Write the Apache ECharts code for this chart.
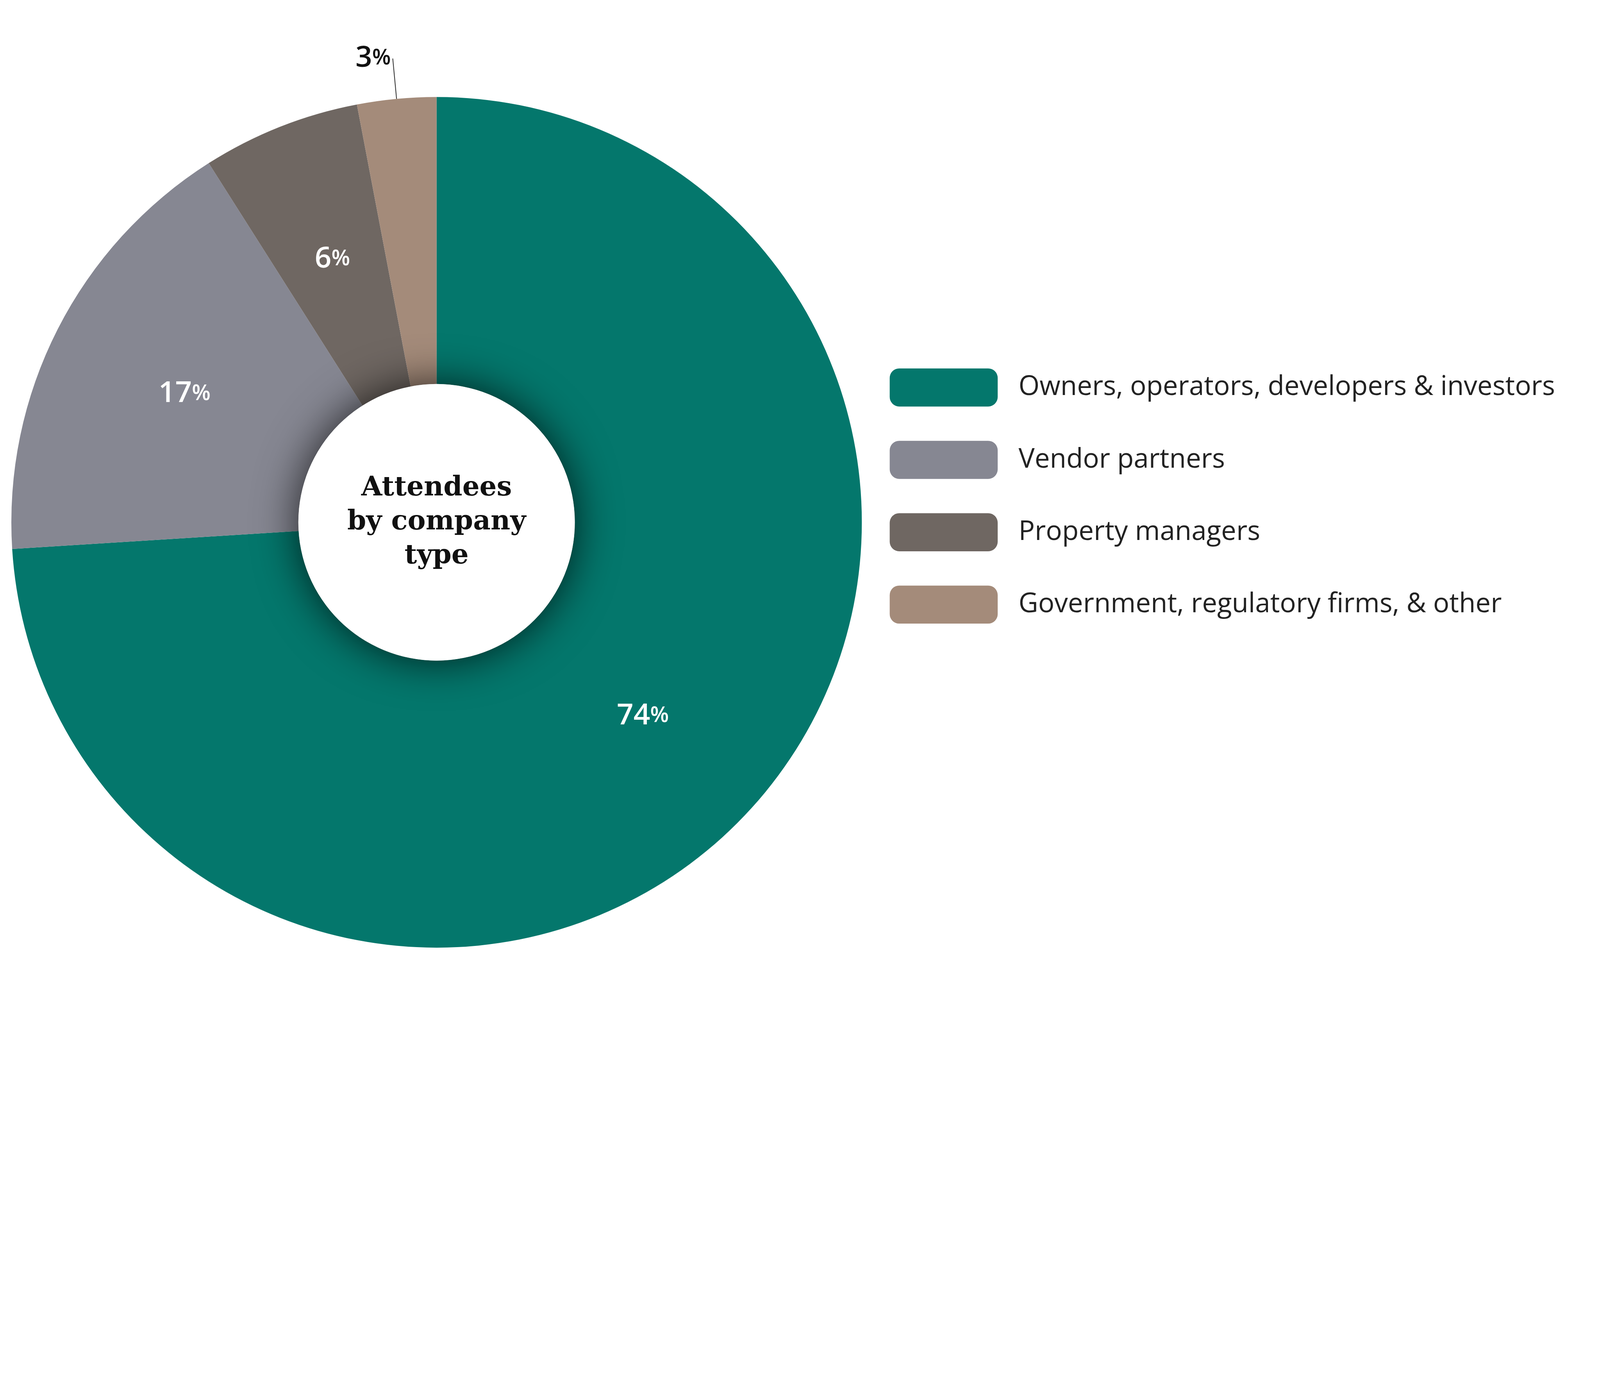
<!DOCTYPE html>
<html><head><meta charset="utf-8">
<script src="https://cdn.jsdelivr.net/npm/echarts@6/dist/echarts.min.js"></script>
<style>html,body{margin:0;padding:0;background:#fff;overflow:hidden}#c{width:100vw;height:100vh}</style>
</head><body><div id="c"></div>
<script>
const categories = ["Owners, operators, developers & investors","Vendor partners","Property managers","Government, regulatory firms, & other"];
const values = [74, 17, 6, 3];
const colors = ["#04776c","#868792","#6f6762","#a48b7a"];
const el = document.getElementById('c');
const W = el.clientWidth, H = el.clientHeight;
const s = Math.min(W/5926, H/3578);
const chart = echarts.init(el);
const data = categories.map((n,i)=>{
  const d = {name:n, value:values[i], itemStyle:{color:colors[i]}};
  if (i===3) d.label = {position:'outside', color:'#111', distance:0};
  return d;
});
chart.setOption({
  animation:false,
  legend:{left:3288*s, top:1357*s, orient:'vertical', icon:'roundRect', itemWidth:400*s, itemHeight:141*s, itemGap:127*s,
    textStyle:{fontFamily:'Open Sans', fontSize:100*s, color:'#222', padding:[0,0,0,70*s]}, data:categories},
  series:[
    {type:'pie', center:[1617*s,1934*s], radius:[512*s,1575*s], startAngle:90, clockwise:true, data:data,
     label:{position:'inside', color:'#fff', fontFamily:'Open Sans', formatter:p=>'{a|'+p.value+'}{b|%}',
       rich:{a:{fontSize:108*s, fontFamily:'Open Sans', fontWeight:600}, b:{fontSize:80*s, fontFamily:'Open Sans', fontWeight:600}}},
     labelLine:{show:true, length:150*s, length2:0, lineStyle:{color:'#333', width:3*s}},
     emphasis:{disabled:true}},
    {type:'pie', center:[1617*s,1934*s], radius:[0,512*s], silent:true, z:5,
     data:[{value:1, itemStyle:{color:'#fff', shadowBlur:160*s, shadowColor:'rgba(0,0,0,0.75)'}}],
     label:{show:true, position:'center', formatter:'Attendees\nby company\ntype', color:'#111',
       fontFamily:'DejaVu Serif', fontWeight:'bold', fontSize:100*s, lineHeight:126*s}, labelLine:{show:false}}
  ]
});
</script></body></html>
